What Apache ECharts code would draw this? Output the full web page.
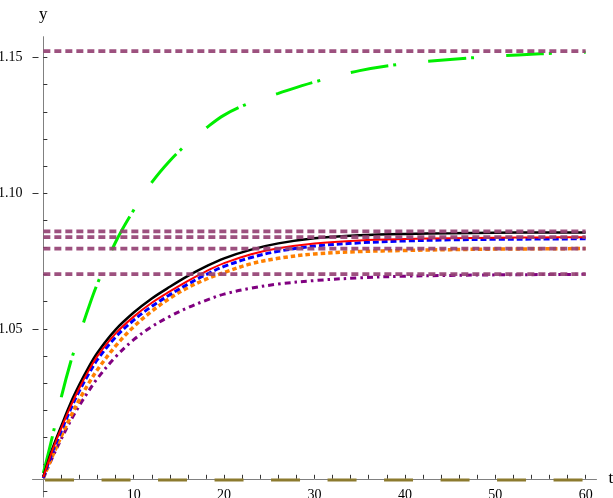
<!DOCTYPE html>
<html><head><meta charset="utf-8">
<script src="https://cdn.jsdelivr.net/npm/echarts@6/dist/echarts.min.js"></script>
<style>html,body{margin:0;padding:0;background:#fff}#c{width:613px;height:498px}</style>
</head><body><div id="c"></div>
<script>
const tValues = [0,1,2,3,4,5,6,8,10,12,14,16,18,20,23,26,30,35,40,45,50,55,60];
const blackY  = [0.9955,1.0058,1.0143,1.0225,1.0295,1.0358,1.0413,1.0497,1.0560,1.0612,1.0655,1.0695,1.0730,1.0760,1.0792,1.0815,1.0834,1.0845,1.0850,1.0852,1.0854,1.0855,1.0855];
const redY    = [0.9953,1.0052,1.0135,1.0213,1.0283,1.0345,1.0400,1.0483,1.0545,1.0596,1.0638,1.0677,1.0712,1.0742,1.0775,1.0797,1.0815,1.0826,1.0831,1.0834,1.0836,1.0837,1.0838];
const blueY   = [0.9950,1.0045,1.0125,1.0203,1.0272,1.0333,1.0387,1.0470,1.0532,1.0583,1.0626,1.0665,1.0700,1.0730,1.0763,1.0786,1.0805,1.0817,1.0824,1.0828,1.0830,1.0831,1.0832];
const orangeY = [0.9950,1.0030,1.0105,1.0175,1.0240,1.0298,1.0350,1.0437,1.0508,1.0565,1.0613,1.0652,1.0683,1.0708,1.0740,1.0760,1.0776,1.0785,1.0789,1.0792,1.0794,1.0795,1.0796];
const purpleY = [0.9950,1.0025,1.0095,1.0160,1.0218,1.0270,1.0318,1.0397,1.0460,1.0508,1.0546,1.0578,1.0605,1.0628,1.0650,1.0665,1.0678,1.0688,1.0694,1.0697,1.0699,1.0700,1.0701];
const greenY  = [0.9968,1.0103,1.0250,1.0375,1.0478,1.0578,1.0668,1.0820,1.0938,1.1040,1.1120,1.1185,1.1240,1.1288,1.1335,1.1368,1.1410,1.1452,1.1478,1.1493,1.1505,1.1514,1.1520];
const levelLines = [1.1524, 1.0859, 1.0838, 1.0796, 1.0702];
const baseLine = 0.9943;
const tRange = [0, 60];
const xMajorTicks = [10,20,30,40,50,60];
const xMinorTicks = [2,4,6,8,10,12,14,16,18,20,22,24,26,28,30,32,34,36,38,40,42,44,46,48,50,52,54,56,58,60];
const yMajorTicks = [1.05,1.10,1.15];
const yMinorTicks = [0.99,1.00,1.01,1.02,1.03,1.04,1.05,1.06,1.07,1.08,1.09,1.10,1.11,1.12,1.13,1.14,1.15];

const pair = ys => tValues.map((t,i)=>[t, ys[i]]);
const font = '"Liberation Serif", "DejaVu Serif", serif';
const curve = (ys, color, width, dash, z) => ({
  type:'line', data: pair(ys), showSymbol:false, smooth:0.35,
  lineStyle:{color, width, type: dash, cap:'butt'}, z, silent:true, animation:false
});
const series = [];
series.push({type:'line', data: tRange.map(t=>[t, baseLine]), showSymbol:false, z:1, animation:false,
  lineStyle:{color:'#8c7a2e', width:3, type:[29,27.5], dashOffset:-1.7}});
series.push(curve(purpleY, '#800080', 3, [6,4,2.5,4], 3));
series.push(curve(orangeY, '#ff8000', 3.5, [4.5,3], 3));
series.push(curve(blueY, '#0000ff', 3, [6,3], 3));
series.push(curve(redY, '#ff0000', 2, 'solid', 4));
series.push(curve(blackY, '#000000', 2.5, 'solid', 3.5));
series.push(curve(greenY, '#00ee00', 3, [38,5,3,32], 3));
levelLines.forEach(v => series.push({type:'line', data: tRange.map(t=>[t, v]), showSymbol:false, z:5, animation:false,
  lineStyle:{color:'#954274', width:3.8, type:[7,4], cap:'butt', opacity:0.92}}));

const chart = echarts.init(document.getElementById('c'), null, {renderer:'canvas'});
chart.setOption({
  animation:false,
  backgroundColor:'#fff',
  grid:{left:32.5, right:16.5, top:36.7, bottom:1, containLabel:false, outerBoundsMode:'none'},
  xAxis:{type:'value', min:-1.2, max:61.2, offset:-18.2,
    name:'t', nameLocation:'end', nameGap:12, nameTextStyle:{fontFamily:font, fontSize:17, color:'#000', verticalAlign:'middle'},
    axisLine:{onZero:false, lineStyle:{color:'#808080', width:1}},
    axisTick:{show:true, inside:true, length:4, customValues:xMinorTicks, lineStyle:{color:'#333'}},
    axisLabel:{customValues:xMajorTicks, fontFamily:font, fontSize:14, color:'#000', margin:10},
    splitLine:{show:false}},
  yAxis:[{type:'value', min:0.988, max:1.1577,
    name:'y', nameLocation:'end', nameGap:14, nameTextStyle:{fontFamily:font, fontSize:17, color:'#000', align:'center'},
    axisLine:{onZero:true, lineStyle:{color:'#808080', width:1}},
    axisTick:{show:true, inside:true, length:4, customValues:yMinorTicks, lineStyle:{color:'#333'}},
    axisLabel:{customValues:yMajorTicks, formatter:v=>v.toFixed(2), fontFamily:font, fontSize:14, color:'#000', margin:10},
    splitLine:{show:false}},
   {type:'value', min:0.988, max:1.1577, position:'left',
    axisLine:{show:false, onZero:true},
    axisTick:{show:true, inside:true, length:6, customValues:yMajorTicks, lineStyle:{color:'#333'}},
    axisLabel:{show:false}, splitLine:{show:false}}],
  series
});
</script></body></html>
